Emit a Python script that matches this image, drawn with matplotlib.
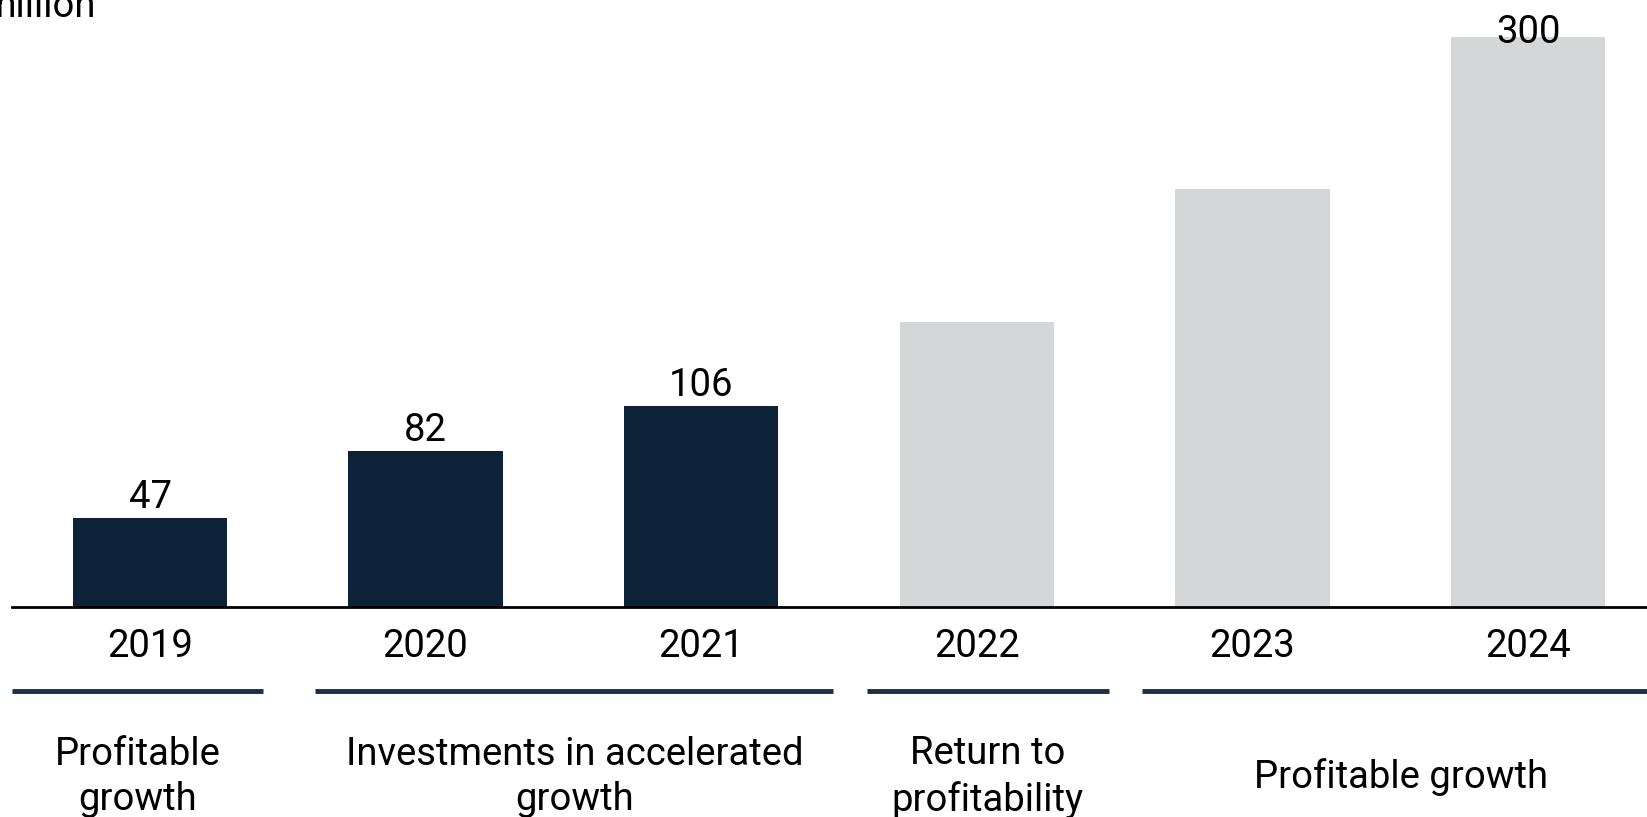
import matplotlib
matplotlib.use("Agg")
import matplotlib.pyplot as plt

# ------------------------------------------------------------
# data
# ------------------------------------------------------------
years = ["2019", "2020", "2021", "2022", "2023", "2024"]
values = [47, 82, 106, 150, 220, 300]
shown_labels = ["47", "82", "106", "", "", "300"]
actual = [True, True, True, False, False, False]

phase_names = ["Profitable\ngrowth", "Investments in accelerated\ngrowth",
               "Return to\nprofitability", "Profitable growth"]
phase_first = [0, 1, 3, 4]
phase_last = [0, 2, 3, 5]

unit_label = "million"

# ------------------------------------------------------------
# style
# ------------------------------------------------------------
plt.rcParams["font.family"] = ["Roboto", "DejaVu Sans"]
dark = "#0d2238"
grey = "#d5d6d8"
line_col = "#1a2e44"
fs = 27.5

W, H = 1647, 817
fig = plt.figure(figsize=(W / 100, H / 100), dpi=100)
ax = fig.add_axes([0, 0, 1, 1])

step_px = 275.6
x0_px = 150
base_px = 607
unit_px = 1.90
ax.set_xlim(-x0_px / step_px, (W - x0_px) / step_px)
ax.set_ylim(-(H - base_px) / unit_px, base_px / unit_px)
ax.axis("off")

xs = list(range(len(years)))
colors = [dark if a else grey for a in actual]
ax.bar(xs, values, width=0.56, color=colors, zorder=2)

ax.axhline(0, xmin=12 / W, xmax=1, color="black", linewidth=2, zorder=3)

# value labels (kept inside the figure at the top)
ytop = ax.get_ylim()[1]
for x, v, lab in zip(xs, values, shown_labels):
    if lab:
        ax.text(x, min(v + 1, ytop - 27), lab, ha="center", va="bottom",
                fontsize=fs, color="black", zorder=4)

for x, y in zip(xs, years):
    ax.text(x, -21, y, ha="center", va="center", fontsize=fs, color="black")

# phase lines and labels
y_line = -(691 - base_px) / unit_px
cy = -(777 - base_px) / unit_px
for name, a, b in zip(phase_names, phase_first, phase_last):
    left = a - 0.5 if a == 0 else a - 0.40
    right = b + 0.41 if a == 0 else b + 0.48
    ax.plot([left, right], [y_line, y_line], color=line_col, linewidth=3.5,
            solid_capstyle="butt", zorder=3)
    ax.text((left + right) / 2, cy, name, ha="center", va="center",
            fontsize=fs, color="black", linespacing=1.3)

fig.text(96 / W, 1 - 17 / H, unit_label, ha="right", va="baseline",
         fontsize=fs, color="black")

fig.savefig("out.png", dpi=100)
